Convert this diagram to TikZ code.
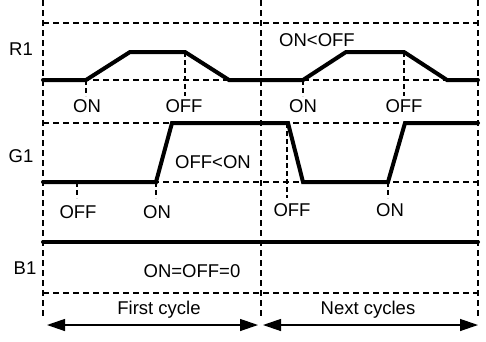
\documentclass[tikz,border=0pt]{standalone}
\usepackage{fontspec}
\setmainfont{Liberation Sans}
\usetikzlibrary{arrows.meta}

\begin{document}
\begin{tikzpicture}[x=1pt, y=-1pt,
    grid/.style={line width=1.3pt, dash pattern=on 6pt off 4pt},
    mark line/.style={line width=1.1pt, dash pattern=on 5pt off 3pt},
    signal/.style={line width=4pt, line cap=round},
    span/.style={line width=1.3pt, {Triangle[length=18pt, width=12pt]}-{Triangle[length=18pt, width=12pt]}},
    lbl/.style={font=\fontsize{18.5}{22}\selectfont, inner sep=0pt}]
    \useasboundingbox (0,0) rectangle (486,341);

    % Draw the time grid
    \draw[grid] (43,0) -- (43,316);
    \draw[grid] (261,0) -- (261,317);
    \draw[grid] (478,0) -- (478,317);
    \draw[grid] (43,23) -- (478,23);
    \draw[grid] (43,80) -- (478,80);
    \draw[grid] (43,123) -- (478,123);
    \draw[grid] (43,182) -- (478,182);
    \draw[grid] (43,293) -- (478,293);

    % Draw the channel names
    \node[lbl] (r1) at (21,49) {R1};
    \node[lbl] (g1) at (21,156) {G1};
    \node[lbl] (b1) at (25,268) {B1};

    % Draw signal R1
    \draw[mark line] (86,80) -- (86,96);
    \draw[mark line] (185,52) -- (185,96);
    \draw[mark line] (303,80) -- (303,96);
    \draw[mark line] (404,52) -- (404,96);
    \draw[signal] (43,80) -- (86,80) -- (130,52) -- (185,52) -- (229,80)
        -- (303,80) -- (346,52) -- (404,52) -- (447,80) -- (478,80);
    \node[lbl] (r1on) at (87,106) {ON};
    \node[lbl] (r1off) at (184,106) {OFF};
    \node[lbl] (r1on2) at (303,106) {ON};
    \node[lbl] (r1off2) at (404,106) {OFF};
    \node[lbl] (r1rule) at (317,40) {ON<OFF};

    % Draw signal G1
    \draw[mark line] (77,182) -- (77,198);
    \draw[mark line] (156,182) -- (156,198);
    \draw[mark line] (287,123) -- (287,198);
    \draw[mark line] (388,182) -- (388,198);
    \draw[signal] (43,182) -- (156,182) -- (172,123) -- (288,123) -- (303,182)
        -- (388,182) -- (405,123) -- (478,123);
    \node[lbl] (g1off) at (78,212) {OFF};
    \node[lbl] (g1on) at (157,212) {ON};
    \node[lbl] (g1off2) at (292,210) {OFF};
    \node[lbl] (g1on2) at (390,210) {ON};
    \node[lbl] (g1rule) at (213,162) {OFF<ON};

    % Draw signal B1
    \draw[signal] (43,242) -- (478,242);
    \node[lbl] (b1rule) at (192,271) {ON=OFF=0};

    % Draw the cycle spans
    \coordinate (c0) at (47,325);
    \coordinate (c1) at (258,325);
    \coordinate (c2) at (263,325);
    \coordinate (c3) at (478,325);
    \draw[span] (c0) -- (c1);
    \draw[span] (c2) -- (c3);
    \node[lbl] (first) at (159,310) {First cycle};
    \node[lbl] (next) at (368,310) {Next cycles};
\end{tikzpicture}
\end{document}
